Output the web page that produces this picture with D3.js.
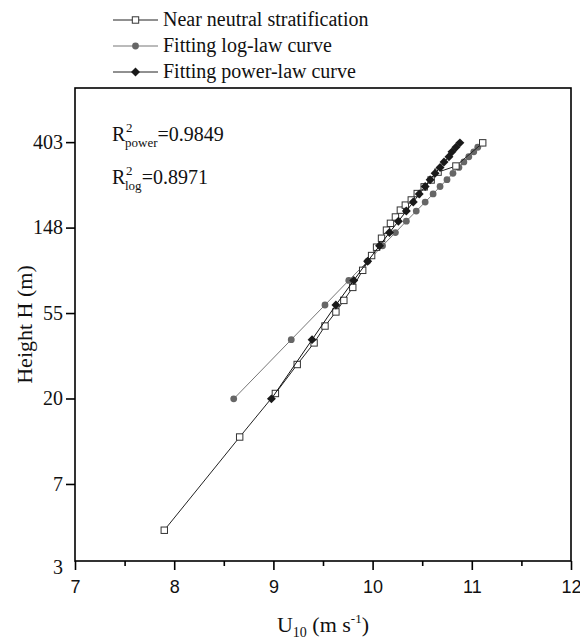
<!DOCTYPE html>
<html><head><meta charset="utf-8">
<script src="https://cdn.jsdelivr.net/npm/d3@7"></script>
<style>body{margin:0;background:#fff}</style>
</head><body><svg id="c" width="580" height="639"></svg>
<script>
// ---- data ----
const neutralU = [7.90, 8.66, 9.02, 9.24, 9.41, 9.52, 9.63, 9.71, 9.80, 9.90, 9.99, 10.04, 10.09, 10.14, 10.18, 10.23, 10.28, 10.33, 10.39, 10.45, 10.52, 10.59, 10.66, 10.84, 11.11];
const neutralH = [4.3, 12.8, 21.3, 29.9, 38.5, 46.9, 55.3, 63.3, 73.7, 90, 107, 118, 131, 144, 156, 168, 182, 193, 205, 221, 239, 259, 284, 305, 400];
const fitH = [20, 40, 60, 80, 100, 120, 140, 160, 180, 200, 220, 240, 260, 280, 300, 320, 340, 360, 380, 400];
const logU = [8.60, 9.18, 9.52, 9.76, 9.95, 10.10, 10.23, 10.34, 10.44, 10.53, 10.61, 10.68, 10.75, 10.81, 10.87, 10.92, 10.97, 11.02, 11.06, 11.11];
const powerU = [8.98, 9.39, 9.63, 9.81, 9.95, 10.07, 10.17, 10.26, 10.34, 10.41, 10.47, 10.53, 10.58, 10.63, 10.68, 10.72, 10.77, 10.80, 10.84, 10.88];
const xTicks = [7, 8, 9, 10, 11, 12];
const xMinorTicks = [7.5, 8.5, 9.5, 10.5, 11.5];
const yTickValues = [3, 7.389, 20.09, 54.6, 148.4, 403.4];
const yTickLabels = ["3", "7", "20", "55", "148", "403"];
const legendLabels = ["Near neutral stratification", "Fitting log-law curve", "Fitting power-law curve"];
const r2Power = "0.9849", r2Log = "0.8971";

// ---- layout ----
const svg = d3.select("#c");
const L = 75, R = 571, T = 88, B = 561;
const x = d3.scaleLinear().domain([7, 12]).range([L, R]);
const y = d3.scaleLog().domain([3, 760]).range([B, T]);
const serif = "'Liberation Serif', 'Times New Roman', serif";
const sans = "'Liberation Sans', Arial, sans-serif";

// frame
svg.append("rect").attr("x", L).attr("y", T).attr("width", R - L).attr("height", B - T)
  .attr("fill", "none").attr("stroke", "#000").attr("stroke-width", 1.6);

// x axis
const gx = svg.append("g").attr("transform", `translate(0,${B})`)
  .call(d3.axisBottom(x).tickValues(xTicks).tickSize(9).tickPadding(10).tickFormat(d3.format("d")));
gx.select(".domain").remove();
gx.selectAll(".tick line").attr("stroke-width", 1.6);
gx.selectAll(".tick text").attr("font-family", sans).attr("font-size", 18).attr("fill", "#111");
const gxm = svg.append("g").attr("transform", `translate(0,${B})`)
  .call(d3.axisBottom(x).tickValues(xMinorTicks).tickSize(5).tickFormat(""));
gxm.select(".domain").remove();
gxm.selectAll(".tick line").attr("stroke-width", 1.6);

// y axis
const gy = svg.append("g").attr("transform", `translate(${L},0)`)
  .call(d3.axisLeft(y).tickValues(yTickValues).tickSize(9).tickPadding(3).tickFormat((d, i) => yTickLabels[i]));
gy.select(".domain").remove();
gy.selectAll(".tick line").attr("stroke-width", 1.6).filter(d => d === 3).remove();
gy.selectAll(".tick text").attr("font-family", serif).attr("font-size", 20).attr("fill", "#111");
gy.selectAll(".tick").filter(d => d === 3).select("text").attr("dy", "0.6em");

// axis titles
svg.append("text").attr("transform", `translate(32,${(T + B) / 2}) rotate(-90)`)
  .attr("text-anchor", "middle").attr("font-family", serif).attr("font-size", 22).attr("fill", "#111")
  .text("Height H (m)");
const xt = svg.append("text").attr("x", (L + R) / 2).attr("y", 632).attr("text-anchor", "middle")
  .attr("font-family", serif).attr("font-size", 22).attr("fill", "#111");
xt.append("tspan").text("U");
xt.append("tspan").attr("font-size", 14).attr("dy", 5).text("10");
xt.append("tspan").attr("dy", -5).text(" (m s");
xt.append("tspan").attr("font-size", 13).attr("dy", -9).text("-1");
xt.append("tspan").attr("dy", 9).text(")");

// series
const line = d3.line().x(d => x(d[0])).y(d => y(d[1]));
const logPts = fitH.map((h, i) => [logU[i], h]);
const powPts = fitH.map((h, i) => [powerU[i], h]);
const neuPts = neutralH.map((h, i) => [neutralU[i], h]);

const diamond = d3.symbol().type(d3.symbolDiamond2 || d3.symbolDiamond).size(52);

function drawLog(g, pts) {
  g.append("path").datum(pts).attr("d", line).attr("fill", "none").attr("stroke", "#777").attr("stroke-width", 1);
  g.selectAll("circle").data(pts).join("circle").attr("cx", d => x(d[0])).attr("cy", d => y(d[1]))
    .attr("r", 3.4).attr("fill", "#666");
}
function drawNeutral(g, pts) {
  g.append("path").datum(pts).attr("d", line).attr("fill", "none").attr("stroke", "#222").attr("stroke-width", 1);
  g.selectAll("rect").data(pts).join("rect").attr("x", d => x(d[0]) - 3.2).attr("y", d => y(d[1]) - 3.2)
    .attr("width", 6.4).attr("height", 6.4).attr("fill", "#fff").attr("stroke", "#333").attr("stroke-width", 1);
}
function drawPow(g, pts) {
  g.append("path").datum(pts).attr("d", line).attr("fill", "none").attr("stroke", "#111").attr("stroke-width", 1);
  g.selectAll("path.m").data(pts).join("path").attr("class", "m")
    .attr("transform", d => `translate(${x(d[0])},${y(d[1])}) rotate(45)`)
    .attr("d", d3.symbol().type(d3.symbolSquare).size(40)).attr("fill", "#1a1a1a");
}
drawLog(svg.append("g"), logPts);
drawNeutral(svg.append("g"), neuPts);
drawPow(svg.append("g"), powPts);

// legend
const lx0 = 113, lx1 = 158, ly = [20, 46, 72];
legendLabels.forEach((lab, i) => {
  const g = svg.append("g");
  g.append("line").attr("x1", lx0).attr("x2", lx1).attr("y1", ly[i]).attr("y2", ly[i])
    .attr("stroke", i === 1 ? "#777" : "#222").attr("stroke-width", 1);
  const cx = (lx0 + lx1) / 2;
  if (i === 0) g.append("rect").attr("x", cx - 3.2).attr("y", ly[i] - 3.2).attr("width", 6.4).attr("height", 6.4)
    .attr("fill", "#fff").attr("stroke", "#333");
  if (i === 1) g.append("circle").attr("cx", cx).attr("cy", ly[i]).attr("r", 3.4).attr("fill", "#666");
  if (i === 2) g.append("path").attr("transform", `translate(${cx},${ly[i]}) rotate(45)`)
    .attr("d", d3.symbol().type(d3.symbolSquare).size(40)).attr("fill", "#1a1a1a");
  g.append("text").attr("x", 163).attr("y", ly[i] + 6).attr("font-family", serif).attr("font-size", 20)
    .attr("fill", "#111").text(lab);
});

// R^2 annotations
function r2(yBase, sub, val) {
  const g = svg.append("g").attr("font-family", serif).attr("fill", "#111");
  g.append("text").attr("x", 112).attr("y", yBase).attr("font-size", 20).text("R");
  g.append("text").attr("x", 126).attr("y", yBase - 9).attr("font-size", 13).text("2");
  const s = g.append("text").attr("x", 125).attr("y", yBase + 6).attr("font-size", 13).text(sub);
  const w = s.node().getComputedTextLength();
  g.append("text").attr("x", 125 + w).attr("y", yBase).attr("font-size", 20).text("=" + val);
}
r2(141, "power", r2Power);
r2(184, "log", r2Log);
</script></body></html>
